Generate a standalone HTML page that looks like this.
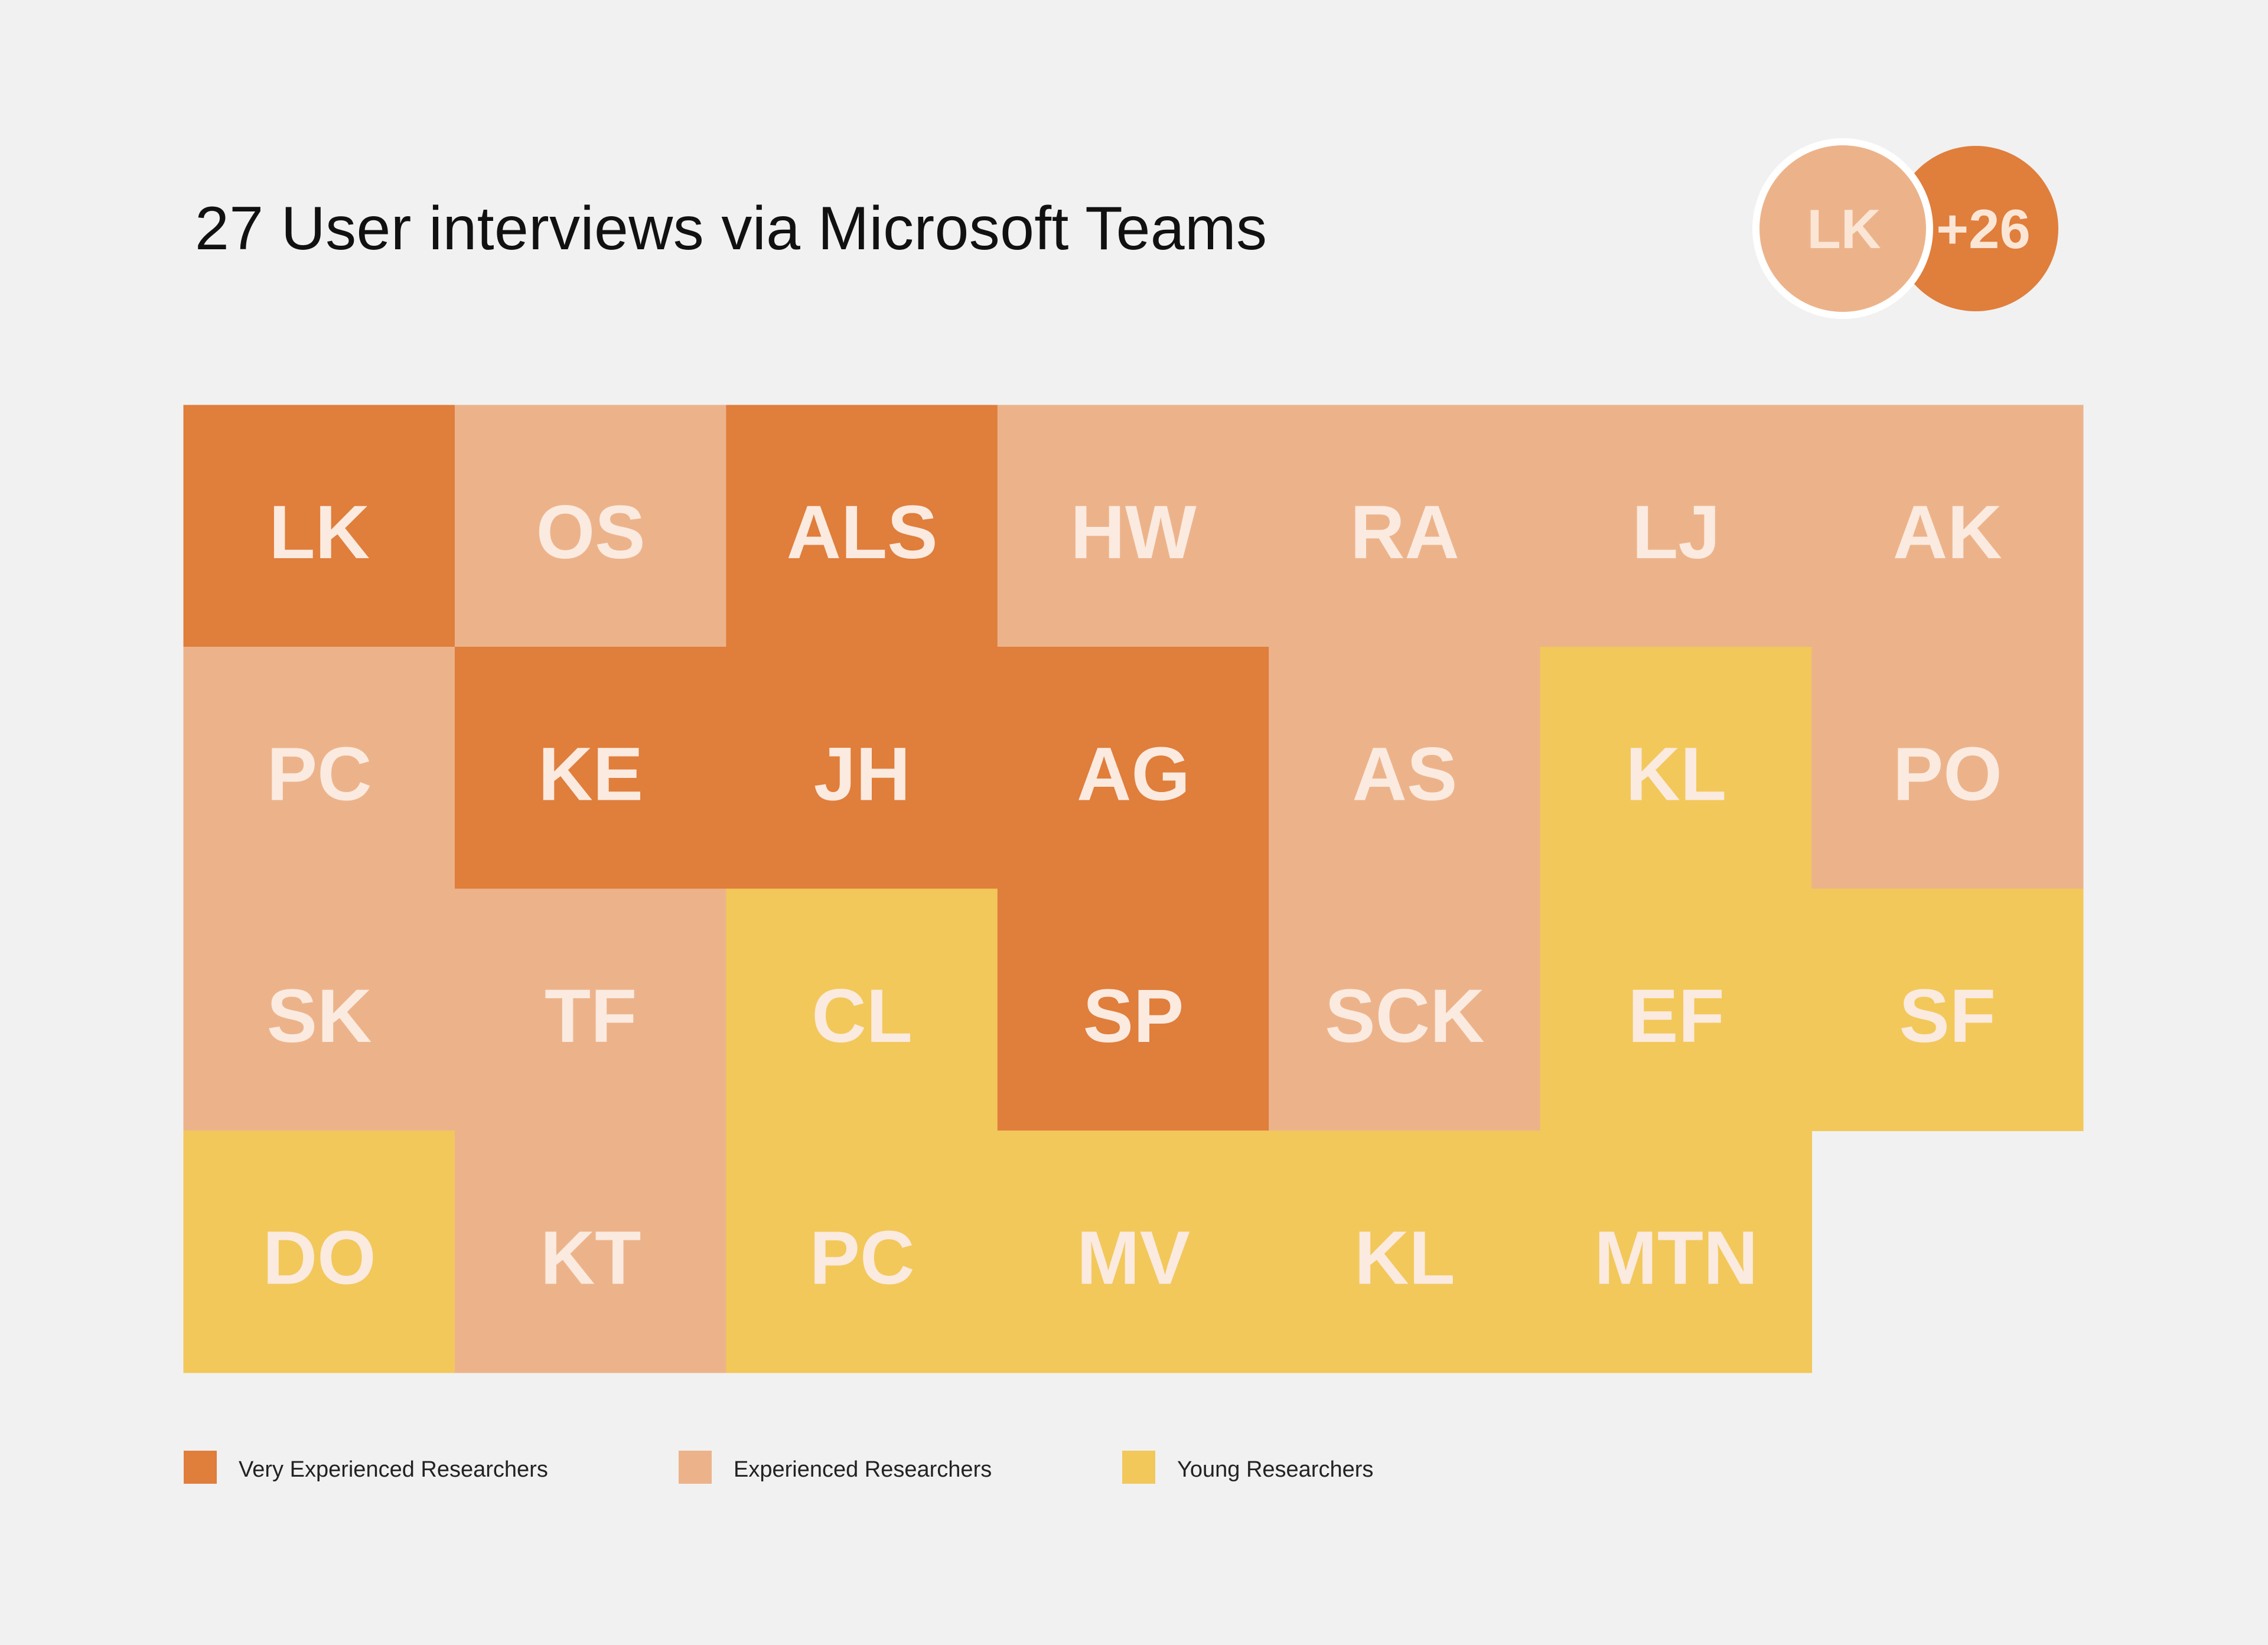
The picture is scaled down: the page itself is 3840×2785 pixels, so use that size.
<!DOCTYPE html>
<html><head><meta charset="utf-8"><style>
html,body{margin:0;padding:0;background:#F1F1F1;}
svg{display:block;font-family:"Liberation Sans","DejaVu Sans",sans-serif;}
</style></head><body>
<svg id="chart" width="3840" height="2785" viewBox="0 0 3840 2785" xmlns="http://www.w3.org/2000/svg">
<rect width="3840" height="2785" fill="#F1F1F1"/>
<text x="330" y="422" font-size="104" fill="#111" textLength="1815">27 User interviews via Microsoft Teams</text>
<g>
<circle cx="3345" cy="387" r="140" fill="#E07E3C"/>
<text x="3358" y="420" font-size="94" font-weight="600" fill="#FBE6D6" text-anchor="middle">+26</text>
<circle cx="3120" cy="387" r="147" fill="#ECB38B" stroke="#FFFFFF" stroke-width="12"/>
<text x="3122" y="420" font-size="94" font-weight="600" fill="#FBE6D6" text-anchor="middle">LK</text>
</g>
<g id="grid"></g>
<g id="legend"></g>
</svg>
<script>
const labels = [
 ["LK","OS","ALS","HW","RA","LJ","AK"],
 ["PC","KE","JH","AG","AS","KL","PO"],
 ["SK","TF","CL","SP","SCK","EF","SF"],
 ["DO","KT","PC","MV","KL","MTN",null]
];
const levels = [
 [0,1,0,1,1,1,1],
 [1,0,0,0,1,2,1],
 [1,1,2,0,1,2,2],
 [2,1,2,2,2,2,null]
];
const categories = ["Very Experienced Researchers","Experienced Researchers","Young Researchers"];
const colors = ["#E07E3C","#ECB38B","#F2C85B"];
const NS="http://www.w3.org/2000/svg";
const gx0=311, gx1=3527, gy0=686, gy1=2324;
const nCols=7, nRows=4;
const cw=(gx1-gx0)/nCols, rh=(gy1-gy0)/nRows;
function xs(c){return gx0+c*cw;}
function ys(r){return gy0+r*rh;}
const grid=document.getElementById('grid');
for(let r=0;r<labels.length;r++){
 for(let c=0;c<labels[r].length;c++){
  if(labels[r][c]===null) continue;
  const rect=document.createElementNS(NS,'rect');
  rect.setAttribute('x',xs(c)-0.5);rect.setAttribute('y',ys(r)-0.5);
  rect.setAttribute('width',cw+1);rect.setAttribute('height',rh+1);
  rect.setAttribute('fill',colors[levels[r][c]]);
  
  
  grid.appendChild(rect);
  const t=document.createElementNS(NS,'text');
  t.setAttribute('x',xs(c)+cw/2);t.setAttribute('y',ys(r)+rh/2+54);
  t.setAttribute('text-anchor','middle');t.setAttribute('font-size','128');
  t.setAttribute('font-weight','bold');
  t.setAttribute('fill','#FBEADF');
  t.textContent=labels[r][c];
  
  
  grid.appendChild(t);
 }
}
const lx=[311,1149,1900];
const legend=document.getElementById('legend');
categories.forEach((cat,i)=>{
 const s=document.createElementNS(NS,'rect');
 s.setAttribute('x',lx[i]);s.setAttribute('y',2456);s.setAttribute('width',56);s.setAttribute('height',56);
 s.setAttribute('fill',colors[i]);
 
 
 legend.appendChild(s);
 const t=document.createElementNS(NS,'text');
 t.setAttribute('x',lx[i]+93);t.setAttribute('y',2500);t.setAttribute('font-size','38');t.setAttribute('fill','#222');
 t.textContent=cat;
 
 
 legend.appendChild(t);
});
</script>
</body></html>
